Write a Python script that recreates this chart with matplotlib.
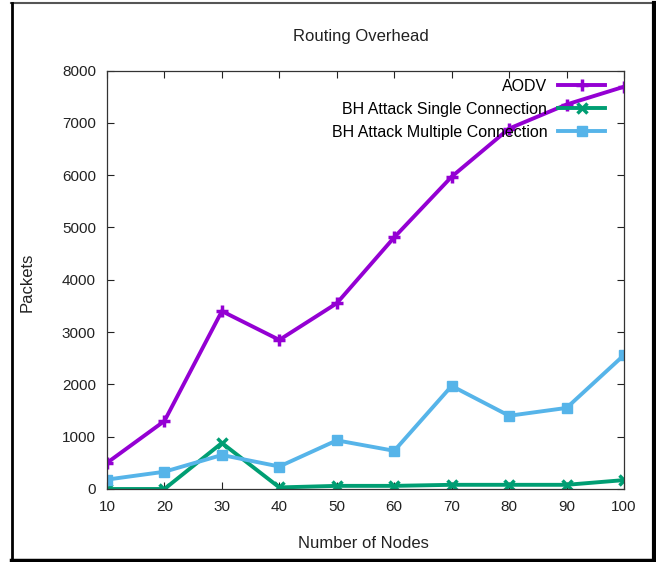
import matplotlib.pyplot as plt
from matplotlib.lines import Line2D

plt.rcParams['font.family'] = ['Liberation Sans', 'DejaVu Sans']

nodes = [10, 20, 30, 40, 50, 60, 70, 80, 90, 100]
aodv = [500, 1300, 3400, 2850, 3550, 4810, 5970, 6890, 7350, 7690]
bh_single = [0, 0, 880, 30, 60, 60, 80, 80, 80, 170]
bh_multi = [180, 330, 650, 430, 930, 730, 1970, 1400, 1550, 2560]

W, H = 656, 562
fig = plt.figure(figsize=(W / 100, H / 100), dpi=100)
ax = fig.add_axes([107 / W, 1 - 489 / H, (624 - 107) / W, (489 - 70.5) / H])

ax.plot(nodes, aodv, color='#9400D3', lw=2.8, marker='+', ms=9, mew=2.5,
        label='AODV')
ax.plot(nodes, bh_single, color='#009E73', lw=2.8, marker='x', ms=7, mew=2.5,
        label='BH Attack Single Connection')
ax.plot(nodes, bh_multi, color='#56B4E9', lw=2.8, marker='s', ms=6.5,
        label='BH Attack Multiple Connection')

ax.set_xlim(10, 100)
ax.set_ylim(0, 8000)
ax.set_xticks(nodes)
ax.set_yticks(range(0, 8001, 1000))
ax.tick_params(direction='in', length=5, width=0.8, top=True, right=True,
               labelsize=11, colors='#222222', pad=8)
for s in ax.spines.values():
    s.set_linewidth(0.9)
    s.set_color('#333333')

ax.legend(loc='upper right', frameon=False, markerfirst=False, fontsize=11.5,
          handlelength=2.9, handletextpad=0.7, borderpad=0.2,
          borderaxespad=0.2, labelspacing=0.5,
          bbox_to_anchor=(0.975, 0.995))

fig.text(361 / W, 1 - 36 / H, 'Routing Overhead', ha='center', va='center',
         fontsize=12, color='#222222')
fig.text(363 / W, 1 - 544 / H, 'Number of Nodes', ha='center', va='center',
         fontsize=12, color='#222222')
fig.text(27 / W, 1 - 282 / H, 'Packets', ha='center', va='center',
         rotation=90, fontsize=12, color='#222222')

# outer frame with heavier right/bottom edges
fig.add_artist(Line2D([11 / W, 654 / W], [1 - 3 / H, 1 - 3 / H],
                      transform=fig.transFigure, color='#555555', lw=1.5))
fig.add_artist(Line2D([12 / W, 12 / W], [1 - 3 / H, 1 - 560 / H],
                      transform=fig.transFigure, color='black', lw=2))
fig.add_artist(Line2D([654 / W, 654 / W], [1 - 3 / H, 1 - 560 / H],
                      transform=fig.transFigure, color='black', lw=3))
fig.add_artist(Line2D([11 / W, 655 / W], [1 - 560 / H, 1 - 560 / H],
                      transform=fig.transFigure, color='black', lw=2.5))

fig.savefig('out.png', dpi=100)
